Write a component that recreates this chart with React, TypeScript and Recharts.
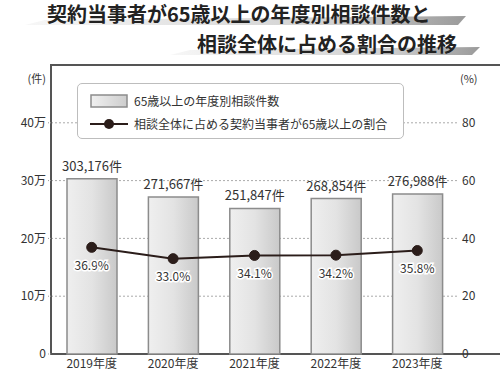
import { ComposedChart, Bar, Line, XAxis, YAxis, CartesianGrid, Legend, LabelList, ReferenceArea } from 'recharts';

const FONT = '"Noto Sans CJK JP", "Noto Sans", sans-serif';

const YEARS = ['2019年度', '2020年度', '2021年度', '2022年度', '2023年度'];
const COUNTS = [303176, 271667, 251847, 268854, 276988];
const SHARES = [36.9, 33.0, 34.1, 34.2, 35.8];
const COUNT_TICKS = [0, 100000, 200000, 300000, 400000];
const SHARE_TICKS = [0, 20, 40, 60, 80];
const BOUNDARY_TICKS = [1, 2, 3, 4];

const COUNT_NAME = '65歳以上の年度別相談件数';
const SHARE_NAME = '相談全体に占める契約当事者が65歳以上の割合';

const data = YEARS.map((year, i) => ({ year, count: COUNTS[i], share: SHARES[i] }));

const fmtCount = (v: number) => (v === 0 ? '0' : `${v / 10000}万`);

function ShareLabel(props: any) {
  const vb = props.viewBox || {};
  const x = vb.x ?? props.x;
  const y = vb.y ?? props.y;
  return (
    <text
      x={x}
      y={y + 17}
      textAnchor="middle"
      dominantBaseline="central"
      fontSize={12}
      fontFamily={FONT}
      fill="#333"
      stroke="#fff"
      strokeWidth={3}
      paintOrder="stroke"
    >
      {Number(props.value).toFixed(1)}%
    </text>
  );
}

// unit caption at the top of a y axis
const unitLabel = (text: string, side: 'left' | 'right') => (props: any) => {
  const vb = props.viewBox || {};
  const x = side === 'left' ? vb.x + vb.width - 5 : vb.x + 2;
  return (
    <text
      x={x}
      y={vb.y + 13}
      textAnchor={side === 'left' ? 'end' : 'start'}
      dominantBaseline="central"
      fontSize={11}
      fill="#333"
      fontFamily={FONT}
    >
      {text}
    </text>
  );
};

function LegendBox({ payload }: any) {
  const items = [...(payload || [])].sort((a: any, b: any) => (a.type === 'rect' ? -1 : b.type === 'rect' ? 1 : 0));
  return (
    <div
      style={{
        width: 327,
        height: 56,
        boxSizing: 'border-box',
        border: '1px solid #bdbdbd',
        borderRadius: 5,
        background: '#fff',
        padding: '5px 0 0 12px',
        fontFamily: FONT,
        fontSize: 12,
        color: '#333',
      }}
    >
      {items.map((entry: any) => (
        <div key={entry.value} style={{ display: 'flex', alignItems: 'center', height: 23 }}>
          <svg width={38} height={14}>
            <defs>
              <linearGradient id="legendBarFill" x1="0" y1="0" x2="1" y2="0">
                <stop offset="0" stopColor="#f0f0f0" />
                <stop offset="1" stopColor="#cdcdcd" />
              </linearGradient>
            </defs>
            {entry.type === 'rect' ? (
              <rect x={1} y={1} width={36} height={12} fill="url(#legendBarFill)" stroke="#8c8c8c" strokeWidth={1.5} />
            ) : (
              <g>
                <line x1={0} y1={7} x2={38} y2={7} stroke="#2b1d1a" strokeWidth={2} />
                <circle cx={19} cy={7} r={5} fill="#2b1d1a" />
              </g>
            )}
          </svg>
          <span style={{ marginLeft: 6 }}>{entry.value}</span>
        </div>
      ))}
    </div>
  );
}

export default function App() {
  return (
    <div style={{ position: 'absolute', left: 0, top: 0, width: 500, height: 374, background: '#fff', overflow: 'hidden' }}>
      <svg width={500} height={60} style={{ position: 'absolute', left: 0, top: 0 }}>
        <defs>
          <linearGradient id="stripe" x1="0" y1="0" x2="1" y2="0">
            <stop offset="0" stopColor="#f7f7f7" />
            <stop offset="0.7" stopColor="#d0d0d0" />
            <stop offset="1" stopColor="#9a9a9a" />
          </linearGradient>
        </defs>
        <polygon points="25,25 45,20 466,16 458,25" fill="url(#stripe)" />
        <polygon points="170,55 190,50 480,47 472,55" fill="url(#stripe)" />
      </svg>
      <div style={{ position: 'absolute', left: 47, top: 3, fontFamily: FONT, fontWeight: 700, fontSize: 20, lineHeight: '22px', color: '#222', whiteSpace: 'nowrap' }}>
        契約当事者が65歳以上の年度別相談件数と
      </div>
      <div style={{ position: 'absolute', left: 197, top: 33, fontFamily: FONT, fontWeight: 700, fontSize: 20, lineHeight: '22px', color: '#222', whiteSpace: 'nowrap' }}>
        相談全体に占める割合の推移
      </div>
      <div style={{ position: 'absolute', left: 0, top: 0 }}>
        <ComposedChart width={500} height={374} data={data} margin={{ top: 65, right: 0, bottom: 0, left: 0 }}>
          <defs>
            <linearGradient id="barFill" x1="0" y1="0" x2="1" y2="0">
              <stop offset="0" stopColor="#efefef" />
              <stop offset="0.5" stopColor="#e3e3e3" />
              <stop offset="1" stopColor="#c9c9c9" />
            </linearGradient>
          </defs>
          <CartesianGrid yAxisId="left" vertical={false} stroke="#aaa" strokeDasharray="2 2" />
          <XAxis
            xAxisId="frame"
            type="number"
            domain={[0, 5]}
            ticks={BOUNDARY_TICKS}
            allowDataOverflow
            tick={false}
            tickSize={6}
            mirror
            axisLine={false}
            tickLine={{ stroke: '#555', strokeWidth: 1.5 }}
            height={0}
          />
          <XAxis
            dataKey="year"
            height={20}
            tickLine={false}
            axisLine={false}
            tickSize={0}
            tickMargin={5}
            tick={{ fontSize: 12, fill: '#333', fontFamily: FONT }}
          />
          <YAxis
            yAxisId="left"
            width={51}
            domain={[0, 500000]}
            ticks={COUNT_TICKS}
            tickFormatter={fmtCount}
            tickSize={3}
            tickMargin={2}
            axisLine={false}
            tickLine={{ stroke: '#999', strokeDasharray: '1 1' }}
            tick={{ fontSize: 12, fill: '#333', fontFamily: FONT }}
            label={{ content: unitLabel('(件)', 'left') }}
          />
          <YAxis
            yAxisId="right"
            orientation="right"
            width={42}
            domain={[0, 100]}
            ticks={SHARE_TICKS}
            tickSize={2}
            tickMargin={2}
            axisLine={false}
            tickLine={false}
            tick={{ fontSize: 12, fill: '#333', fontFamily: FONT }}
            label={{ content: unitLabel('(%)', 'right') }}
          />
          <Legend
            layout="horizontal"
            verticalAlign="middle"
            align="center"
            wrapperStyle={{ left: 77, top: 83, width: 327, height: 56 }}
            content={LegendBox}
          />
          <Bar
            dataKey="count"
            name={COUNT_NAME}
            yAxisId="left"
            barSize={50}
            fill="url(#barFill)"
            stroke="#8c8c8c"
            strokeWidth={1.5}
            legendType="rect"
            isAnimationActive={false}
          >
            <LabelList
              dataKey="count"
              position="top"
              offset={8}
              formatter={(v: any) => `${Number(v).toLocaleString('en-US')}件`}
              fontSize={13}
              fill="#333"
              fontFamily={FONT}
            />
          </Bar>
          <Line
            dataKey="share"
            name={SHARE_NAME}
            yAxisId="right"
            stroke="#2b1d1a"
            strokeWidth={2}
            dot={{ r: 5, fill: '#2b1d1a', stroke: '#2b1d1a', strokeWidth: 1 }}
            activeDot={false}
            legendType="line"
            isAnimationActive={false}
          >
            <LabelList dataKey="share" content={ShareLabel} />
          </Line>
          <ReferenceArea
            xAxisId="frame"
            yAxisId="left"
            x1={0}
            x2={5}
            y1={0}
            y2={500000}
            fill="none"
            stroke="#555"
            strokeWidth={2}
            ifOverflow="visible"
          />
        </ComposedChart>
      </div>
    </div>
  );
}
